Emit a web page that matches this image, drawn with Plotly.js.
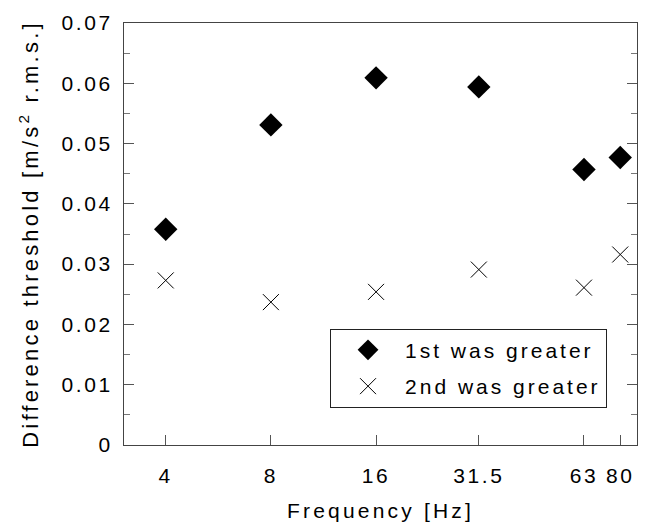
<!DOCTYPE html>
<html>
<head>
<meta charset="utf-8">
<script src="https://cdn.plot.ly/plotly-3.0.1.min.js"></script>
<style>
  html, body { margin: 0; padding: 0; background: #fff; }
  #chart { width: 648px; height: 524px; }
  .xtick text, .ytick text { letter-spacing: 2.6px; }
  .xtitle, .ytitle { letter-spacing: 3.2px; }
  .legendtext { letter-spacing: 3px; }
</style>
</head>
<body>
<div id="chart"></div>
<script>
// Data
const frequencies = [4, 8, 16, 31.5, 63, 80];
const tickLabels = ['4', '8', '16', '31.5', '63', '80'];
const firstGreater = [0.0358, 0.0531, 0.0609, 0.0594, 0.0457, 0.0477];
const secondGreater = [0.0273, 0.0237, 0.0254, 0.0291, 0.0261, 0.0316];
const seriesNames = ['1st was greater', '2nd was greater'];
const yTickVals = [0, 0.01, 0.02, 0.03, 0.04, 0.05, 0.06, 0.07];
const yTickLabels = ['0', '0.01', '0.02', '0.03', '0.04', '0.05', '0.06', '0.07'];

const fam = 'Liberation Sans, Arial, sans-serif';
const fsz = 21;

const traces = [
  {
    x: frequencies, y: firstGreater, name: seriesNames[0], legendgroup: 'a',
    type: 'scatter', mode: 'markers',
    marker: { symbol: 'diamond', size: 18, color: '#000' }
  },
  {
    x: frequencies, y: secondGreater, name: seriesNames[1], legendgroup: 'b',
    type: 'scatter', mode: 'markers',
    marker: { symbol: 'x-thin', size: 16, color: '#000', line: { color: '#000', width: 1 } }
  }
];

const layout = {
  width: 648, height: 524,
  margin: { l: 124, r: 11, t: 23, b: 79 },
  paper_bgcolor: '#fff', plot_bgcolor: '#fff',
  font: { family: fam, size: fsz, color: '#000' },
  showlegend: true,
  legend: {
    x: 0.4016, y: 0.2756, xanchor: 'left', yanchor: 'top',
    bordercolor: '#222', borderwidth: 1, bgcolor: '#fff',
    font: { family: fam, size: fsz, color: '#000' },
    itemwidth: 64,
    tracegroupgap: 6
  },
  xaxis: {
    type: 'log',
    range: [0.4826, 1.9511],
    tickmode: 'array', tickvals: frequencies, ticktext: tickLabels,
    ticks: 'inside', ticklen: 10, tickcolor: '#555', tickwidth: 1,
    showline: true, linecolor: '#444', linewidth: 1, mirror: true,
    showgrid: false, zeroline: false,
    tickfont: { family: fam, size: fsz, color: '#000' },
    ticklabelstandoff: 12,
    title: { text: 'Frequency [Hz]', font: { family: fam, size: fsz, color: '#000' }, standoff: 17 }
  },
  yaxis: {
    range: [0, 0.07],
    tickmode: 'array', tickvals: yTickVals, ticktext: yTickLabels,
    ticks: 'inside', ticklen: 10, tickcolor: '#555', tickwidth: 1,
    minor: { dtick: 0.005, ticks: 'inside', ticklen: 6, tickcolor: '#777' },
    showline: true, linecolor: '#444', linewidth: 1, mirror: 'ticks',
    showgrid: false, zeroline: false,
    tickfont: { family: fam, size: fsz, color: '#000' },
    ticklabelstandoff: 6,
    title: { text: 'Difference threshold [m/s<sup>2</sup> r.m.s.]', font: { family: fam, size: 22, color: '#000' }, standoff: 16 }
  }
};

Plotly.newPlot('chart', traces, layout, { displayModeBar: false, staticPlot: true });
</script>
</body>
</html>
